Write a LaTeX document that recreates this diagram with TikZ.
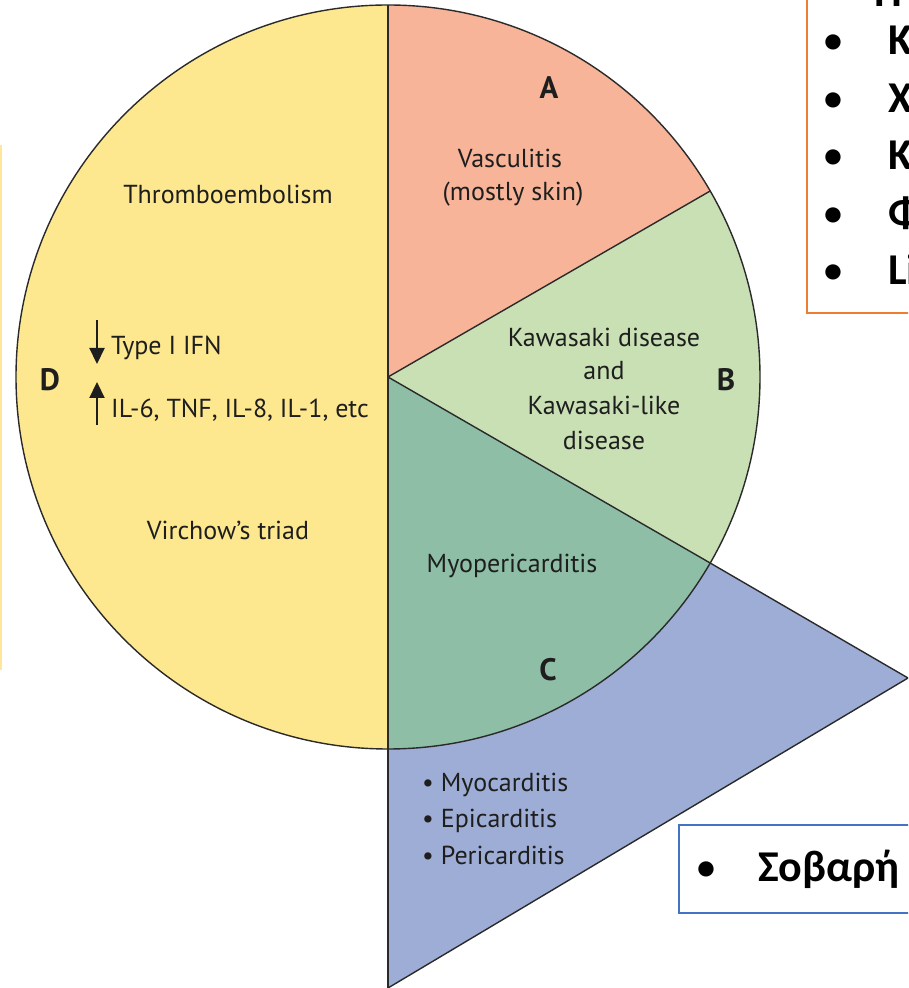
\documentclass[tikz,border=0pt]{standalone}
\usepackage{fontspec}
\setmainfont{PT Sans}
\newfontfamily\boxfont{Carlito}
\usetikzlibrary{arrows.meta}
\definecolor{colD}{HTML}{FEE88F}
\definecolor{colA}{HTML}{F7B498}
\definecolor{colB}{HTML}{C8E0B4}
\definecolor{colC}{HTML}{8FBEA6}
\definecolor{colE}{HTML}{9DADD5}
\definecolor{edge}{HTML}{2A2A2A}
\definecolor{txtc}{HTML}{1E1E1E}
\definecolor{orangeb}{HTML}{ED7D31}
\definecolor{blueb}{HTML}{4472C4}
\definecolor{lineyel}{HTML}{FFE699}
\begin{document}
\begin{tikzpicture}[x=1pt,y=1pt,
  txt/.style={font=\fontsize{26}{30}\selectfont, text=txtc, inner sep=0pt},
  letter/.style={font=\fontsize{31}{34}\selectfont\bfseries, text=txtc, inner sep=0pt},
  outline/.style={draw=edge, line width=1.4pt},
  boxtxt/.style={font=\boxfont\bfseries\fontsize{44}{50}\selectfont, inner sep=0pt, anchor=base west},
  boxbul/.style={font=\boxfont\bfseries\fontsize{36}{40}\selectfont, inner sep=0pt, anchor=base},
  updown/.style={line width=2.2pt, draw=txtc, fill=txtc, -{Triangle[length=16pt,width=15pt]}}]
\useasboundingbox (0,0) rectangle (908,988);
\clip (0,0) rectangle (908,988);
\coordinate (O) at (388,611);
\coordinate (tip) at (908,310);
\coordinate (bot) at (388,0);
% blue wedge behind the circle
\filldraw[fill=colE, outline] (O) -- ++(-30:372) coordinate (pBC) -- (tip) -- (bot) -- cycle;
% sectors
\fill[colD] (O) -- ++(90:372) arc[start angle=90, end angle=270, radius=372] -- cycle;
\fill[colA] (O) -- ++(30:372) arc[start angle=30, end angle=90, radius=372] -- cycle;
\fill[colB] (O) -- ++(-30:372) arc[start angle=-30, end angle=30, radius=372] -- cycle;
\fill[colC] (O) -- ++(-90:372) arc[start angle=-90, end angle=-30, radius=372] -- cycle;
\draw[outline] (O) circle[radius=372];
\draw[outline] (O) -- ++(30:372) coordinate (pAB);
\draw[outline] (O) -- (pBC);
\draw[outline] (388,983) -- (bot);
% left yellow line
\draw[lineyel, line width=2pt] (1,843) -- (1,318);
% labels
\node[letter] (lA) at (549,900) {A};
\node[letter] (lB) at (726,608) {B};
\node[letter] (lC) at (548,318) {C};
\node[letter] (lD) at (50,608) {D};
\node[txt] (vas1) at (510,830) {Vasculitis};
\node[txt] (vas2) at (513,794) {(mostly skin)};
\node[txt] (kaw1) at (604,651) {Kawasaki disease};
\node[txt] (kaw2) at (604,617) {and};
\node[txt] (kaw3) at (604,583) {Kawasaki-like};
\node[txt] (kaw4) at (604,548) {disease};
\node[txt] (myo) at (512,422) {Myopericarditis};
\node[txt] (thr) at (228,794) {Thromboembolism};
\node[txt] (vir) at (228,458) {Virchow’s triad};
\node[txt, anchor=west] (ifn) at (111,640) {Type I IFN};
\node[txt, anchor=west] (il) at (111,578) {IL-6, TNF, IL-8, IL-1, etc};
\coordinate (a1s) at (97,668);
\coordinate (a1e) at (97,624);
\coordinate (a2s) at (97,563);
\coordinate (a2e) at (97,606);
\draw[updown] (a1s) -- (a1e);
\draw[updown] (a2s) -- (a2e);
\node[txt, anchor=west] (m1) at (422,203) {• Myocarditis};
\node[txt, anchor=west] (m2) at (422,167) {• Epicarditis};
\node[txt, anchor=west] (m3) at (422,133) {• Pericarditis};
% top right box
\draw[orangeb, line width=2pt] (807,675) rectangle (930,1010);
\node[boxtxt] (hdr) at (874,981) {Π};
\node[boxbul] (b1) at (833,935) {•};
\node[boxtxt] (t1) at (888,933) {Κ};
\node[boxbul] (b2) at (833,877) {•};
\node[boxtxt] (t2) at (888,875) {Χ};
\node[boxbul] (b3) at (833,820) {•};
\node[boxtxt] (t3) at (888,818) {Κ};
\node[boxbul] (b4) at (833,762) {•};
\node[boxtxt] (t4) at (888,760) {Φ};
\node[boxbul] (b5) at (833,705) {•};
\node[boxtxt] (t5) at (888,703) {Li};
% bottom right box
\draw[blueb, line width=2pt] (679,75) rectangle (930,163);
\node[boxbul] (b6) at (706,108) {•};
\node[boxtxt] (t6) at (758,106) {Σοβαρή};
\end{tikzpicture}
\end{document}
